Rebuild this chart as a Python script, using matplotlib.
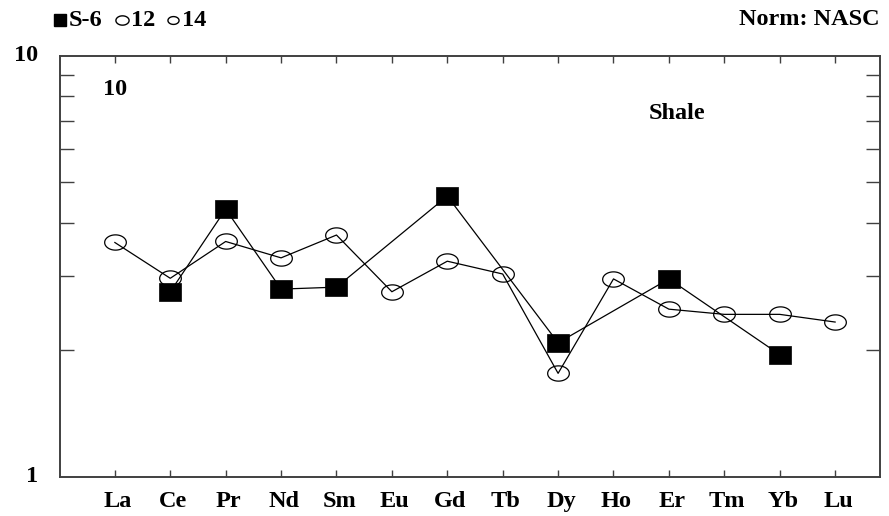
import matplotlib
matplotlib.use("Agg")
import matplotlib.pyplot as plt
import numpy as np
from matplotlib.path import Path
from matplotlib.lines import Line2D
from matplotlib.transforms import ScaledTranslation
from matplotlib.ticker import FixedLocator, NullFormatter, LogLocator

elements = ["La", "Ce", "Pr", "Nd", "Sm", "Eu", "Gd", "Tb", "Dy", "Ho", "Er", "Tm", "Yb", "Lu"]
s6_elements = ["Ce", "Pr", "Nd", "Sm", "Gd", "Dy", "Er", "Yb"]
s6_values = [2.75, 4.32, 2.79, 2.82, 4.64, 2.08, 2.95, 1.95]
s12_values = [3.60, 2.96, 3.62, 3.31, 3.75, 2.75, 3.25, 3.03, 1.76, 2.95, 2.50, 2.43, 2.43, 2.33]
y_ticks = [1, 10]
y_tick_labels = ["1", "10"]

serif = ["Liberation Serif", "DejaVu Serif"]
FS = 17.5

fig = plt.figure(figsize=(8.89, 5.16), dpi=100)
ax = fig.add_axes([60/889, (516-476.7)/516, 820/889, 421/516])
ax.set_yscale("log")
ax.set_ylim(1, 10)
ax.set_xlim(-0.99, 13.81)

# elliptical open marker and flat rectangle marker
t = np.linspace(0, 2*np.pi, 60)
ell = Path(np.column_stack([1.42*np.cos(t), np.sin(t)]), closed=True)
rect = Path([(-1.3, -1), (1.3, -1), (1.3, 1), (-1.3, 1), (-1.3, -1)], closed=True)

x_all = np.arange(len(elements))
x_s6 = [elements.index(e) for e in s6_elements]

ax.plot(x_all, s12_values, color="black", lw=0.9, marker=ell, markersize=15.6,
        markerfacecolor="none", markeredgecolor="black", markeredgewidth=0.9, zorder=3)
ax.plot(x_s6, s6_values, color="black", lw=0.9, marker=rect, markersize=16,
        markerfacecolor="black", markeredgecolor="black", markeredgewidth=0.5, zorder=4)

ax.xaxis.set_major_locator(FixedLocator(x_all))
ax.set_xticklabels(elements, fontfamily=serif, fontweight="bold", fontsize=FS)
ax.yaxis.set_major_locator(FixedLocator(y_ticks))
ax.set_yticklabels(y_tick_labels, fontfamily=serif, fontweight="bold", fontsize=FS)
ax.yaxis.set_minor_locator(LogLocator(base=10, subs=np.arange(2, 10)))
ax.yaxis.set_minor_formatter(NullFormatter())

ax.tick_params(axis="x", which="both", direction="in", top=True, bottom=True,
               length=5, width=1, pad=10, color="#404040")
ax.tick_params(axis="y", which="major", direction="in", left=True, right=True,
               length=0, pad=16)
ax.tick_params(axis="y", which="minor", direction="in", left=True, right=True,
               length=10, width=1, color="#404040")
for lab in ax.get_yticklabels():
    lab.set_verticalalignment("center")
shift = ScaledTranslation(3/100, 0, fig.dpi_scale_trans)
for lab in ax.get_xticklabels():
    lab.set_transform(lab.get_transform() + shift)
for s in ax.spines.values():
    s.set_color("#404040")
    s.set_linewidth(1.4)

ax.text(0, 8.31, "10", fontfamily=serif, fontweight="bold", fontsize=FS, ha="center", va="center")
ax.text(10.14, 7.29, "Shale", fontfamily=serif, fontweight="bold", fontsize=FS, ha="center", va="center")

fig.text(880/889, 1-19.5/516, "Norm: NASC", fontfamily=serif, fontweight="bold", fontsize=FS,
         ha="right", va="center")

# legend-like header
ly = 1 - 20/516
fig.add_artist(Line2D([60/889], [ly], transform=fig.transFigure, marker="s", markersize=9,
                      color="black", linestyle="none"))
fig.text(69/889, ly, "S-6", fontfamily=serif, fontweight="bold", fontsize=FS, ha="left", va="center")
fig.add_artist(Line2D([121.5/889], [ly], transform=fig.transFigure, marker=ell, markersize=9.5,
                      markerfacecolor="none", markeredgecolor="black", markeredgewidth=1.0,
                      linestyle="none"))
fig.text(131/889, ly, "12", fontfamily=serif, fontweight="bold", fontsize=FS, ha="left", va="center")
fig.add_artist(Line2D([173/889], [ly], transform=fig.transFigure, marker=ell, markersize=8,
                      markerfacecolor="none", markeredgecolor="black", markeredgewidth=1.0,
                      linestyle="none"))
fig.text(182/889, ly, "14", fontfamily=serif, fontweight="bold", fontsize=FS, ha="left", va="center")

fig.savefig("out.png", dpi=100)
